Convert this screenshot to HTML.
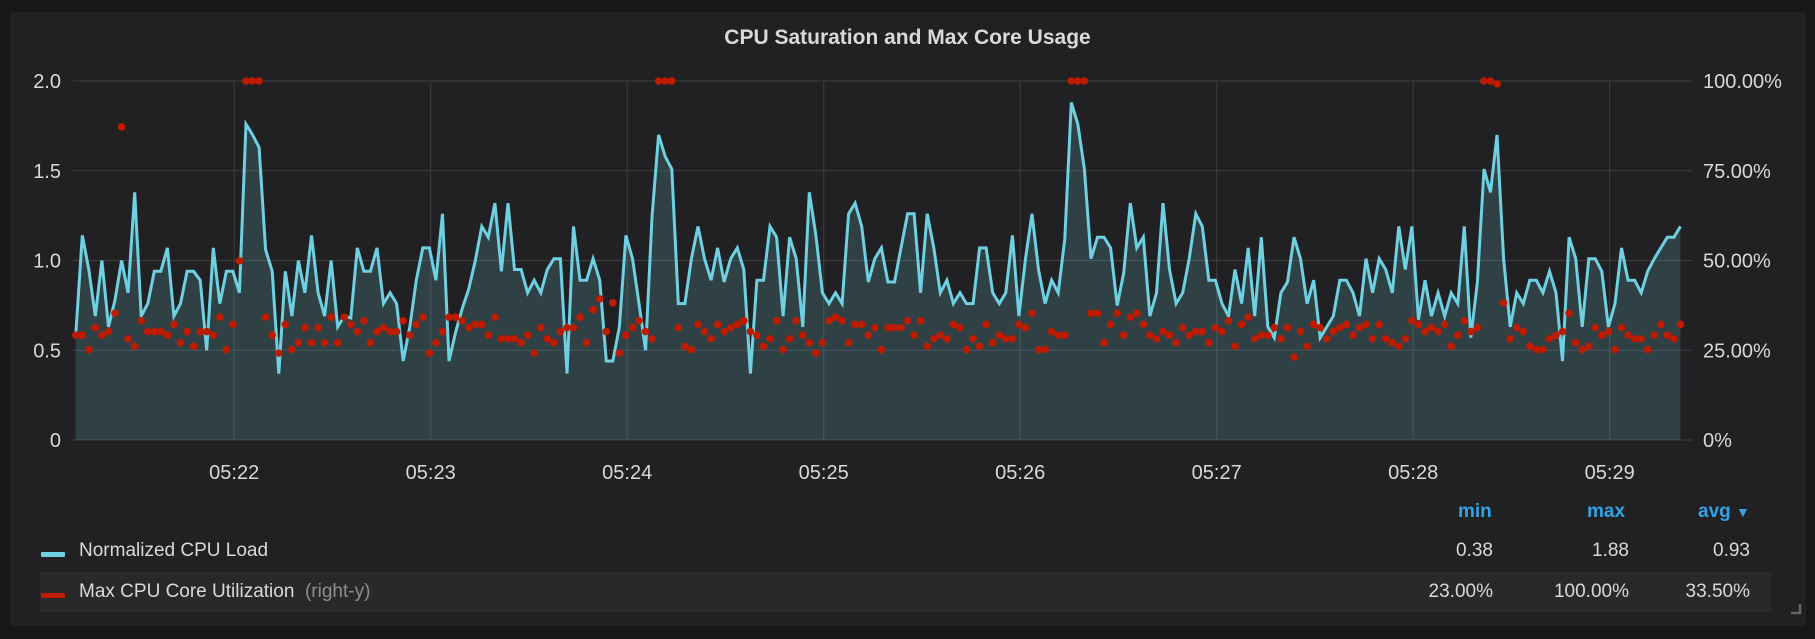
<!DOCTYPE html>
<html><head><meta charset="utf-8">
<style>
html,body{margin:0;padding:0;background:#161719;width:1815px;height:639px;overflow:hidden;font-family:"Liberation Sans",sans-serif;}
#panel{position:absolute;left:10px;top:12px;width:1796px;height:614px;background:#212124;border-radius:3px;}
#title{position:absolute;left:0;width:1815px;top:26px;text-align:center;color:#d8d9da;font-size:21px;font-weight:bold;}
svg{position:absolute;left:0;top:0;}
.lg{position:absolute;font-size:19px;color:#d8d9da;white-space:nowrap;}
.hd{position:absolute;font-size:19px;color:#33a2e5;font-weight:bold;}
.num{position:absolute;font-size:19px;color:#d8d9da;text-align:right;width:150px;}
</style></head>
<body>
<div id="panel"></div>
<div id="title">CPU Saturation and Max Core Usage</div>
<svg id="chart" width="1815" height="639"></svg>

<div style="position:absolute;left:40px;top:572px;width:1731px;height:40px;background:#29292c"></div>
<div class="hd" style="left:1458px;top:501px">min</div>
<div class="hd" style="left:1587px;top:501px">max</div>
<div class="hd" style="left:1698px;top:501px">avg <span style="font-size:14px">&#9660;</span></div>

<div style="position:absolute;left:41px;top:552px;width:24px;height:5px;background:#6ed0e0;border-radius:1px"></div>
<div class="lg" style="left:79px;top:540px">Normalized CPU Load</div>
<div class="num" style="left:1343px;top:540px">0.38</div>
<div class="num" style="left:1479px;top:540px">1.88</div>
<div class="num" style="left:1600px;top:540px">0.93</div>

<div style="position:absolute;left:41px;top:593px;width:24px;height:5px;background:#bf1b00;border-radius:1px"></div>
<div class="lg" style="left:79px;top:581px">Max CPU Core Utilization <span style="color:#8e8e8e">&nbsp;(right-y)</span></div>
<div class="num" style="left:1343px;top:581px">23.00%</div>
<div class="num" style="left:1479px;top:581px">100.00%</div>
<div class="num" style="left:1600px;top:581px">33.50%</div>

<svg width="1815" height="639" style="pointer-events:none"><path d="M1791 613 L1800 613 L1800 604" stroke="#666" stroke-width="2.5" fill="none"/></svg>

<script>
const loadValues=[0.58,1.14,0.95,0.69,1.0,0.63,0.78,1.0,0.82,1.38,0.69,0.76,0.94,0.94,1.07,0.69,0.76,0.94,0.94,0.89,0.50,1.07,0.76,0.94,0.94,0.82,1.76,1.70,1.63,1.06,0.94,0.37,0.94,0.69,1.0,0.82,1.14,0.82,0.69,1.0,0.63,0.69,0.68,1.07,0.94,0.94,1.07,0.76,0.82,0.76,0.44,0.63,0.89,
1.07,1.07,0.89,1.26,0.44,0.60,0.73,0.84,1.0,1.19,1.13,1.32,0.94,1.32,0.95,0.95,0.82,0.89,0.82,0.95,1.01,1.01,0.37,1.19,0.89,0.89,1.01,0.89,0.44,0.44,0.63,1.14,1.01,0.76,0.50,1.25,1.70,1.58,1.51,0.76,0.76,1.01,1.19,1.01,0.89,1.07,0.88,1.01,1.07,0.95,0.37,
0.89,0.89,1.19,1.13,0.69,1.13,1.01,0.63,1.38,1.14,0.82,0.76,0.82,0.76,1.26,1.32,1.19,0.88,1.01,1.07,0.88,0.88,1.07,1.26,1.26,0.82,1.26,1.07,0.82,0.89,0.76,0.82,0.76,0.76,1.07,1.07,0.82,0.76,0.82,1.14,0.69,1.01,1.26,0.95,0.76,0.89,0.82,1.12,1.88,1.76,1.51,
1.01,1.13,1.13,1.07,0.75,0.93,1.32,1.07,1.13,0.69,0.82,1.32,0.95,0.76,0.82,1.01,1.26,1.19,0.89,0.89,0.76,0.69,0.95,0.76,1.07,0.69,1.13,0.63,0.57,0.82,0.88,1.13,1.01,0.76,0.89,0.57,0.63,0.69,0.89,0.89,0.82,0.69,1.01,0.82,1.01,0.95,0.82,1.19,0.95,1.19,0.67,
0.89,0.69,0.82,0.69,0.82,0.76,1.19,0.57,0.88,1.51,1.38,1.70,1.01,0.63,0.82,0.76,0.89,0.89,0.82,0.94,0.82,0.44,1.13,1.01,0.63,1.01,1.01,0.94,0.63,0.76,1.07,0.89,0.89,0.82,0.94,1.01,1.07,1.13,1.13,1.19];
const coreValues=[29.2,29.2,25.2,31.3,29.2,30.2,35.3,87.2,28.2,26.1,33.2,30.2,30.2,30.2,29.2,32.2,27.1,30.2,26.1,30.2,30.2,29.2,34.2,25.2,32.2,49.9,100,100,100,34.2,29.2,24.2,32.2,25.2,27.1,31.3,27.1,31.3,27.1,34.2,27.1,34.2,32.2,30.2,33.2,27.1,30.2,31.3,30.2,30.2,33.2,29.2,32.2,
34.2,24.2,27.1,30.2,34.2,34.2,33.2,31.3,32.2,32.2,29.2,34.2,28.2,28.2,28.2,27.1,29.2,24.2,31.3,28.2,27.1,30.2,31.3,31.3,34.2,27.1,36.3,39.3,30.2,38.2,24.2,29.2,31.3,33.2,30.2,28.2,100,100,100,31.3,26.1,25.2,32.2,30.2,28.2,32.2,30.2,31.3,32.2,33.2,30.2,
29.2,26.1,28.2,33.2,25.2,28.2,33.2,29.2,27.1,24.2,27.1,33.2,34.2,33.2,27.1,32.2,32.2,29.2,31.3,25.2,31.3,31.3,31.3,33.2,29.2,33.2,26.1,28.2,29.2,28.2,32.2,31.3,25.2,28.2,26.1,32.2,27.1,29.2,28.2,28.2,32.2,31.3,35.3,25.2,25.2,30.2,29.2,29.2,100,100,100,
35.3,35.3,27.1,32.2,35.3,29.2,34.2,35.3,32.2,29.2,28.2,30.2,29.2,27.1,31.3,29.2,30.2,30.2,27.1,31.3,30.2,33.2,26.1,32.2,34.2,28.2,29.2,29.2,31.3,28.2,31.3,23.1,30.2,26.1,32.2,31.3,28.2,30.2,31.3,32.2,29.2,31.3,32.2,28.2,32.2,28.2,27.1,26.1,28.2,33.2,32.2,
30.2,31.3,30.2,32.2,26.1,29.2,33.2,30.2,31.3,100,100,99.2,38.2,28.2,31.3,30.2,26.1,25.2,25.2,28.2,29.2,30.2,35.3,27.1,25.2,26.1,31.3,29.2,30.2,25.2,31.3,29.2,28.2,28.2,25.2,29.2,32.2,29.2,28.2,32.2];
const leftTicks=[0,0.5,1.0,1.5,2.0];
const leftTickLabels=["0","0.5","1.0","1.5","2.0"];
const rightTickLabels=["0%","25.00%","50.00%","75.00%","100.00%"];
const timeTickMinutes=[22,23,24,25,26,27,28,29];
const startSeconds=5*3600+21*60+11.6;
const stepSeconds=2;

const NS="http://www.w3.org/2000/svg";
const svg=document.getElementById('chart');
const X0=75.7,PX_PER_SEC=6.55/2,Y0=440,Y1=81;
function xAt(sec){return X0+(sec-startSeconds)*PX_PER_SEC;}
function yLeft(v){return Y0-(v/2)*(Y0-Y1);}
function yRight(p){return Y0-(p/100)*(Y0-Y1);}
function mk(tag,attrs){const e=document.createElementNS(NS,tag);for(const k in attrs)e.setAttribute(k,attrs[k]);svg.appendChild(e);return e;}

leftTicks.forEach((v,i)=>{
  const y=yLeft(v);
  const g=mk('line',{x1:73,x2:1692,y1:y,y2:y,stroke:'#3f3f42','stroke-width':1});
  
  
  const t=mk('text',{x:61,y:y+7,'text-anchor':'end',fill:'#d8d9da','font-size':20,'font-family':'Liberation Sans, sans-serif'});
  t.textContent=leftTickLabels[i];
  
  
  const r=mk('text',{x:1703,y:y+7,fill:'#d8d9da','font-size':20,'font-family':'Liberation Sans, sans-serif'});
  r.textContent=rightTickLabels[i];
  
  
});
timeTickMinutes.forEach(m=>{
  const x=xAt(5*3600+m*60);
  const g=mk('line',{x1:x,x2:x,y1:Y1,y2:Y0,stroke:'#3f3f42','stroke-width':1});
  
  
  const t=mk('text',{x:x,y:479,'text-anchor':'middle',fill:'#d8d9da','font-size':20,'font-family':'Liberation Sans, sans-serif'});
  t.textContent='05:'+String(m).padStart(2,'0');
  
  
});

let pts=loadValues.map((v,i)=>[xAt(startSeconds+i*stepSeconds),yLeft(v)]);
let d=pts.map((p,i)=>(i?'L':'M')+p[0].toFixed(1)+' '+p[1].toFixed(1)).join(' ');
const lastX=pts[pts.length-1][0];
const area=mk('path',{d:d+` L${lastX} ${Y0} L${X0} ${Y0} Z`,fill:'#6ed0e0','fill-opacity':0.18});


const line=mk('path',{d:d,fill:'none',stroke:'#6ed0e0','stroke-width':3,'stroke-linejoin':'miter'});



coreValues.forEach((p,i)=>{
  const c=mk('circle',{cx:xAt(startSeconds+i*stepSeconds),cy:yRight(p),r:3.8,fill:'#bf1b00'});
  
  
});
</script>
</body></html>
